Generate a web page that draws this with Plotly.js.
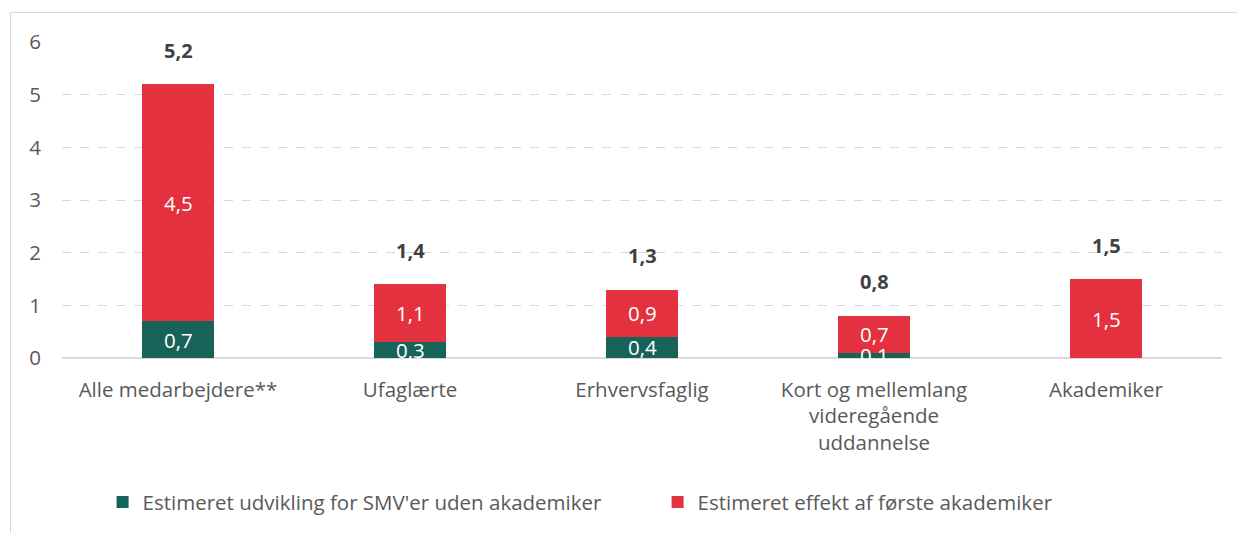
<!DOCTYPE html>
<html>
<head>
<meta charset="utf-8">
<script src="https://cdn.plot.ly/plotly-3.0.1.min.js"></script>
<style>
  html, body { margin: 0; padding: 0; background: #fff; overflow: hidden; }
  #chart { position: absolute; left: 0; top: 0; width: 1237px; height: 533px; }
  #frame { position: absolute; left: 10px; top: 12px; width: 1300px; height: 600px;
           border: 1px solid #d9d9d9; pointer-events: none; box-sizing: border-box; }
</style>
</head>
<body>
<div id="chart"></div>
<div id="frame"></div>
<script>
const categories = ['Alle medarbejdere**', 'Ufaglærte', 'Erhvervsfaglig', 'Kort og mellemlang<br>videregående<br>uddannelse', 'Akademiker'];
const baseValues = [0.7, 0.3, 0.4, 0.1, 0];
const effectValues = [4.5, 1.1, 0.9, 0.7, 1.5];
const totals = [5.2, 1.4, 1.3, 0.8, 1.5];
const seriesNames = ["Estimeret udvikling for SMV'er uden akademiker", 'Estimeret effekt af første akademiker'];
const yTicks = [0, 1, 2, 3, 4, 5, 6];

const GREEN = '#17635A';
const RED = '#E3313F';
const FONT = 'Open Sans, sans-serif';
const FS = 20.5;
const fmt = v => v.toFixed(1).replace('.', ',');

const traces = [
  { type: 'bar', x: categories, y: baseValues, name: seriesNames[0],
    marker: { color: GREEN }, width: 0.31, hoverinfo: 'skip' },
  { type: 'bar', x: categories, y: effectValues, name: seriesNames[1],
    marker: { color: RED }, width: 0.31, hoverinfo: 'skip' }
];

const annotations = [];
categories.forEach((c, i) => {
  if (baseValues[i] > 0) {
    annotations.push({ x: c, y: baseValues[i] / 2, text: fmt(baseValues[i]), showarrow: false,
      font: { family: FONT, size: FS, color: '#ffffff' }, yanchor: 'middle' });
  }
  if (effectValues[i] > 0) {
    annotations.push({ x: c, y: baseValues[i] + effectValues[i] / 2, text: fmt(effectValues[i]), showarrow: false,
      font: { family: FONT, size: FS, color: '#ffffff' }, yanchor: 'middle' });
  }
  annotations.push({ x: c, y: totals[i], text: '<b>' + fmt(totals[i]) + '</b>', showarrow: false,
    font: { family: FONT, size: 20, color: '#404040' }, yanchor: 'middle', yshift: 34 });
});

const layout = {
  width: 1237, height: 533,
  margin: { l: 62, r: 15, t: 42, b: 174 },
  paper_bgcolor: 'rgba(0,0,0,0)', plot_bgcolor: 'rgba(0,0,0,0)',
  barmode: 'stack',
  font: { family: FONT, size: FS, color: '#595959' },
  showlegend: true,
  legend: { orientation: 'h', x: 0.035, xanchor: 'left', y: -0.452, yanchor: 'middle',
    entrywidth: 510, entrywidthmode: 'pixels',
    font: { family: FONT, size: FS, color: '#595959' }, traceorder: 'normal' },
  xaxis: { type: 'category', range: [-0.5, 4.5], showgrid: false, showline: false, ticks: '',
    ticklabelstandoff: 17, tickfont: { family: FONT, size: FS, color: '#595959' }, fixedrange: true },
  yaxis: { range: [0, 6], tickvals: yTicks, ticktext: yTicks.map(String), showgrid: true,
    gridcolor: '#d9d9d9', griddash: 'dash', gridwidth: 1, zeroline: true, zerolinecolor: '#d9d9d9',
    zerolinewidth: 2, showline: false, ticks: '', ticklabelstandoff: 20,
    tickfont: { family: FONT, size: FS, color: '#595959' }, fixedrange: true },
  annotations: annotations
};

Plotly.newPlot('chart', traces, layout, { displayModeBar: false, staticPlot: true });
</script>
</body>
</html>
